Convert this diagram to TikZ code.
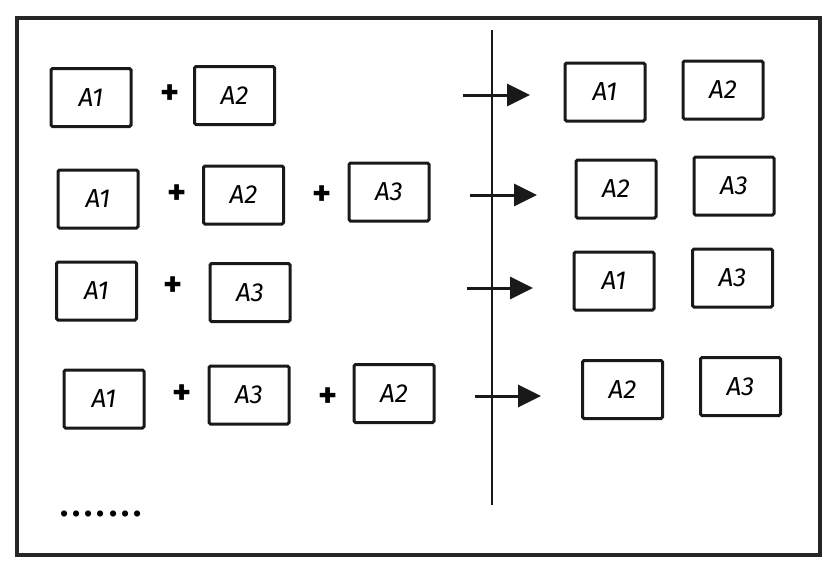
\documentclass[tikz,border=0pt]{standalone}
\usepackage{fontspec}
\setmainfont{Fira Sans}
\usetikzlibrary{arrows.meta}
\tikzset{
  blk/.style={draw=black!90, line width=3pt, rounded corners=1.5pt, minimum width=80pt, minimum height=58pt, inner sep=0pt,
    font=\fontsize{26}{30}\selectfont\itshape},
  plus/.style={inner sep=0pt, font=\fontsize{36}{40}\selectfont\bfseries},
  arr/.style={line width=3pt, draw=black!90, -{Triangle[length=23pt,width=22pt]}},
  frame/.style={line width=3.2pt, draw=black!85},
}
\begin{document}
\begin{tikzpicture}[x=1pt,y=-1pt]
\useasboundingbox (0,0) rectangle (836,570);
\draw[frame] (17,18) rectangle (820,555);
\coordinate (dtop) at (492,30);
\coordinate (dbot) at (492,505);
\draw[line width=2.8pt, draw=black!90] (dtop) -- (dbot);
% row 1
\node[blk] (l1a) at (91,97.5) {A1};
\node[plus] (p1) at (170,95) {+};
\node[blk] (l1b) at (234.5,95.5) {A2};
% row 2
\node[blk] (l2a) at (98,199) {A1};
\node[plus] (p2a) at (177,195) {+};
\node[blk] (l2b) at (243.5,195) {A2};
\node[plus] (p2b) at (322,196) {+};
\node[blk] (l2c) at (389,192) {A3};
% row 3
\node[blk] (l3a) at (96.5,291) {A1};
\node[plus] (p3) at (173,287) {+};
\node[blk] (l3b) at (250,292.5) {A3};
% row 4
\node[blk] (l4a) at (104,399) {A1};
\node[plus] (p4a) at (182,395) {+};
\node[blk] (l4b) at (249,395) {A3};
\node[plus] (p4b) at (328,398) {+};
\node[blk] (l4c) at (394,393.5) {A2};
% right side
\node[blk] (r1a) at (605,92) {A1};
\node[blk] (r1b) at (723,90) {A2};
\node[blk] (r2a) at (616,189) {A2};
\node[blk] (r2b) at (734,186) {A3};
\node[blk] (r3a) at (614,281) {A1};
\node[blk] (r3b) at (732.5,278) {A3};
\node[blk] (r4a) at (622.5,389.5) {A2};
\node[blk] (r4b) at (740.5,386.5) {A3};
% arrows
\coordinate (a1s) at (463,95);  \coordinate (a1e) at (530,95);
\coordinate (a2s) at (470,195); \coordinate (a2e) at (537,195);
\coordinate (a3s) at (467,288); \coordinate (a3e) at (533,288);
\coordinate (a4s) at (475,396); \coordinate (a4e) at (541,396);
\draw[arr] (a1s) -- (a1e);
\draw[arr] (a2s) -- (a2e);
\draw[arr] (a3s) -- (a3e);
\draw[arr] (a4s) -- (a4e);
% dots
\node[inner sep=0pt, anchor=base west, font=\fontsize{34}{36}\selectfont\bfseries\addfontfeature{LetterSpace=12}] (dots) at (60,516) {.......};
\end{tikzpicture}
\end{document}
